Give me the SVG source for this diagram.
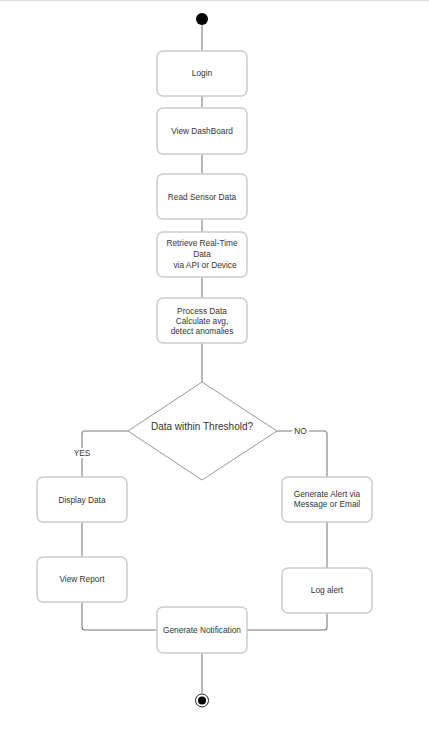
<svg xmlns="http://www.w3.org/2000/svg" width="429" height="736" viewBox="0 0 429 736">
  <style>
    .box { fill: #ffffff; stroke: #cccccc; stroke-width: 1.5; }
    .lbl { font-family: "Liberation Sans", Arial, sans-serif; font-size: 8.3px; fill: #333333; text-anchor: middle; }
    .edge { fill: none; stroke: #a6a6a6; stroke-width: 1.6; }
    .edge-dark { fill: none; stroke: #777777; stroke-width: 1.1; }
  </style>
  <rect x="0" y="0" width="429" height="736" fill="#ffffff"/>
  <line x1="0" y1="0.5" x2="429" y2="0.5" stroke="#dddddd" stroke-width="1"/>

  <!-- connectors -->
  <g id="connectors">
    <path class="edge" d="M202 25 V51"/>
    <path class="edge" d="M202 96 V108"/>
    <path class="edge" d="M202 154 V174"/>
    <path class="edge" d="M202 219 V232"/>
    <path class="edge" d="M202 277 V298"/>
    <path class="edge" d="M202 343 V382"/>
    <path class="edge" d="M128 431 H85 Q82 431 82 434 V477"/>
    <path class="edge" d="M277 431 H324 Q327 431 327 434 V477"/>
    <path class="edge" d="M82 522 V557"/>
    <path class="edge" d="M327 522 V568"/>
    <path class="edge" d="M82 602 V627"/>
    <path class="edge-dark" d="M82 627 Q82 630 85 630 H157"/>
    <path class="edge" d="M327 613 V627"/>
    <path class="edge-dark" d="M327 627 Q327 630 324 630 H247"/>
    <path class="edge" d="M202 653 V693"/>
    <rect x="72" y="448" width="20" height="10" fill="#ffffff"/>
    <text class="lbl" x="82" y="456">YES</text>
    <rect x="292" y="426" width="17" height="10" fill="#ffffff"/>
    <text class="lbl" x="300.5" y="434">NO</text>
  </g>

  <g id="start">
    <circle cx="202" cy="19" r="6" fill="#000000"/>
  </g>

  <g id="login">
    <rect class="box" x="157" y="51" width="90" height="45" rx="6"/>
    <text class="lbl" x="202" y="76">Login</text>
  </g>

  <g id="view-dashboard">
    <rect class="box" x="157" y="108" width="90" height="46" rx="6"/>
    <text class="lbl" x="202" y="134">View DashBoard</text>
  </g>

  <g id="read-sensor">
    <rect class="box" x="157" y="174" width="90" height="45" rx="6"/>
    <text class="lbl" x="202" y="200">Read Sensor Data</text>
  </g>

  <g id="retrieve">
    <rect class="box" x="157" y="232" width="90" height="45" rx="6"/>
    <text class="lbl" x="202" y="246">Retrieve Real-Time</text>
    <text class="lbl" x="202" y="257">Data</text>
    <text class="lbl" x="205" y="268">via API or Device</text>
  </g>

  <g id="process">
    <rect class="box" x="157" y="298" width="90" height="45" rx="6"/>
    <text class="lbl" x="202" y="314">Process Data</text>
    <text class="lbl" x="202" y="324">Calculate avg,</text>
    <text class="lbl" x="202" y="334">detect anomalies</text>
  </g>

  <g id="threshold">
    <polygon points="202,382 277,431 202,480 128,431" fill="#ffffff" stroke="#999999" stroke-width="1"/>
    <text x="202" y="430" font-family="Liberation Sans, Arial, sans-serif" font-size="10" fill="#333333" text-anchor="middle">Data within Threshold?</text>
  </g>

  <g id="display-data">
    <rect class="box" x="37" y="477" width="90" height="45" rx="6"/>
    <text class="lbl" x="82" y="503">Display Data</text>
  </g>

  <g id="view-report">
    <rect class="box" x="37" y="557" width="90" height="45" rx="6"/>
    <text class="lbl" x="82" y="582">View Report</text>
  </g>

  <g id="generate-alert">
    <rect class="box" x="282" y="477" width="90" height="45" rx="6"/>
    <text class="lbl" x="327" y="497">Generate Alert via</text>
    <text class="lbl" x="327" y="507">Message or Email</text>
  </g>

  <g id="log-alert">
    <rect class="box" x="282" y="568" width="90" height="45" rx="6"/>
    <text class="lbl" x="327" y="593">Log alert</text>
  </g>

  <g id="notification">
    <rect class="box" x="157" y="607" width="90" height="46" rx="6"/>
    <text class="lbl" x="202" y="633">Generate Notification</text>
  </g>

  <g id="end">
    <circle cx="202" cy="700.5" r="6.5" fill="#ffffff" stroke="#222222" stroke-width="1"/>
    <circle cx="202" cy="700.5" r="4" fill="#000000"/>
  </g>
</svg>
